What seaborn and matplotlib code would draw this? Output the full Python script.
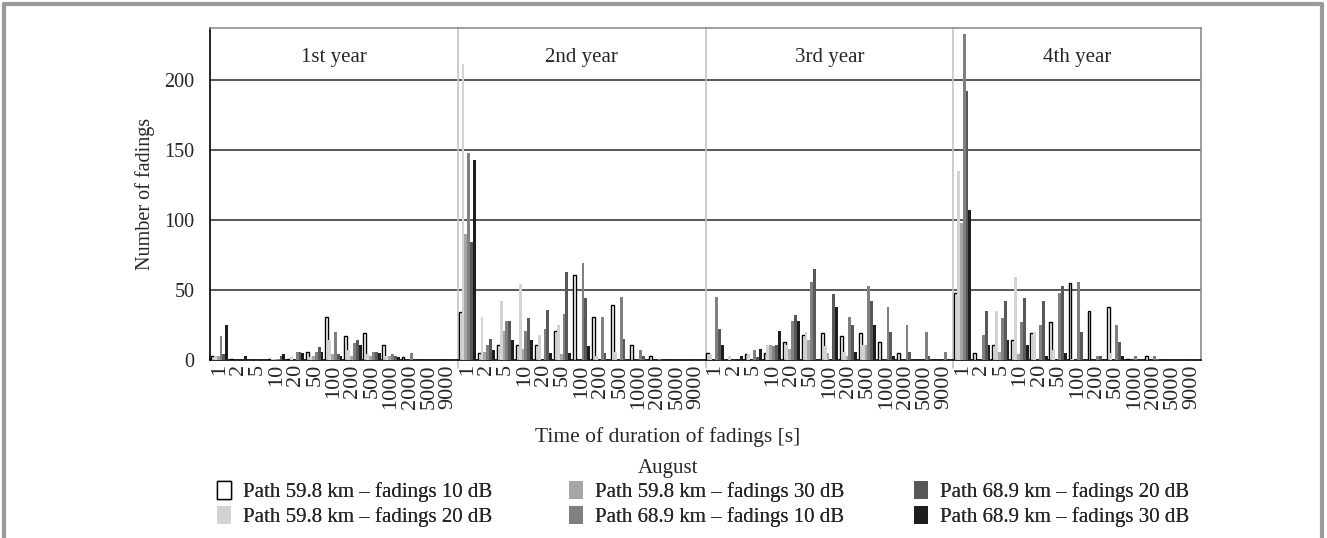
import numpy as np
import pandas as pd
import seaborn as sns
import matplotlib
matplotlib.use("Agg")
import matplotlib.pyplot as plt
from matplotlib.patches import Patch
from matplotlib.lines import Line2D

# ---------------- data ----------------
durations = ["1", "2", "5", "10", "20", "50", "100", "200", "500", "1000", "2000", "5000", "9000"]
years = ["1st year", "2nd year", "3rd year", "4th year"]
series_names = [
    "Path 59.8 km \u2013 fadings 10 dB",
    "Path 59.8 km \u2013 fadings 20 dB",
    "Path 59.8 km \u2013 fadings 30 dB",
    "Path 68.9 km \u2013 fadings 10 dB",
    "Path 68.9 km \u2013 fadings 20 dB",
    "Path 68.9 km \u2013 fadings 30 dB",
]

# values per series, 4 years x 13 durations
p598_10 = [3, 1, 0, 1, 1, 6, 31, 17, 19, 11, 2, 0, 0,
           34, 5, 11, 11, 11, 21, 61, 31, 39, 11, 3, 0, 0,
           5, 0, 4, 5, 13, 18, 19, 17, 19, 13, 5, 0, 0,
           48, 5, 11, 14, 19, 27, 55, 35, 38, 1, 3, 0, 0]
p598_20 = [3, 0, 0, 1, 2, 2, 14, 7, 4, 3, 0, 0, 0,
           211, 31, 42, 54, 18, 25, 0, 3, 6, 0, 0, 0, 0,
           4, 3, 4, 11, 11, 20, 10, 6, 11, 0, 0, 0, 0,
           135, 0, 35, 59, 20, 7, 1, 0, 5, 0, 0, 0, 0]
p598_30 = [3, 0, 0, 1, 0, 3, 4, 3, 3, 3, 0, 0, 0,
           90, 6, 21, 8, 0, 4, 0, 0, 0, 0, 0, 0, 0,
           0, 0, 0, 11, 8, 14, 5, 3, 11, 0, 0, 0, 0,
           98, 0, 6, 4, 0, 0, 0, 0, 0, 0, 0, 0, 0]
p689_10 = [17, 0, 0, 1, 6, 6, 20, 12, 6, 4, 5, 0, 0,
           148, 11, 28, 21, 22, 33, 69, 31, 45, 7, 1, 0, 0,
           45, 0, 7, 10, 28, 56, 0, 31, 53, 38, 25, 20, 6,
           233, 18, 30, 27, 25, 48, 56, 3, 25, 3, 3, 0, 0]
p689_20 = [4, 0, 0, 3, 6, 9, 4, 14, 6, 3, 0, 0, 0,
           84, 15, 28, 30, 36, 63, 44, 5, 15, 3, 0, 0, 0,
           22, 0, 2, 11, 32, 65, 47, 25, 42, 20, 6, 3, 0,
           192, 35, 42, 44, 42, 53, 20, 3, 13, 0, 1, 0, 0]
p689_30 = [25, 3, 0, 4, 5, 6, 3, 11, 5, 2, 0, 0, 0,
           143, 7, 14, 14, 5, 5, 10, 0, 0, 0, 0, 0, 0,
           11, 3, 8, 21, 28, 0, 38, 6, 25, 3, 1, 0, 0,
           107, 11, 14, 11, 3, 5, 0, 1, 3, 0, 0, 0, 0]

series_values = [p598_10, p598_20, p598_30, p689_10, p689_20, p689_30]
colors = ["#ffffff", "#d3d3d3", "#a6a6a6", "#808080", "#585858", "#1e1e1e"]

# ---------------- table ----------------
keys = [f"{y}|{d}" for y in years for d in durations]
rows = []
for name, vals in zip(series_names, series_values):
    for k, v in zip(keys, vals):
        rows.append({"key": k, "series": name, "value": v})
df = pd.DataFrame(rows)

# ---------------- figure ----------------
sns.set_style("white")
plt.rcParams["font.family"] = ["Liberation Serif", "DejaVu Serif"]

W, H = 1327, 538
fig = plt.figure(figsize=(W / 100, H / 100), dpi=100)
L, R, T, B = 210, 1201, 28, 360
ax = fig.add_axes([L / W, 1 - B / H, (R - L) / W, (B - T) / H])

sns.barplot(data=df, x="key", y="value", hue="series", order=keys,
            hue_order=series_names, palette=colors, saturation=1,
            width=0.9, linewidth=0, legend=False, ax=ax, zorder=3)

for i, cont in enumerate(ax.containers):
    for p in cont.patches:
        if i == 0:
            p.set_edgecolor("#000000")
            p.set_linewidth(1.0)
        else:
            p.set_edgecolor("none")

n = len(keys)
ax.set_xlim(-0.5, n - 0.5)
ax.set_ylim(0, 237)

# grid
ax.set_yticks([0, 50, 100, 150, 200])
for yv in [50, 100, 150, 200]:
    ax.axhline(yv, color="#4a4a4a", lw=1.3, zorder=1)

# spines
for s in ["top", "right"]:
    ax.spines[s].set_color("#8c8c8c")
    ax.spines[s].set_linewidth(1.2)
ax.spines["left"].set_color("#000000")
ax.spines["bottom"].set_color("#000000")
ax.spines["left"].set_linewidth(1.2)
ax.spines["bottom"].set_linewidth(1.2)

# ticks
ax.set_xticks(np.arange(n))
ax.set_xticklabels(durations * len(years), rotation=90, fontsize=16)
ax.tick_params(axis="x", which="major", length=0, pad=3)
ax.set_xticks(np.arange(-0.5, n, 1.0), minor=True)
ax.tick_params(axis="x", which="minor", length=6, color="#999999", width=0.8)
ax.tick_params(axis="y", which="major", length=5, color="#888888", labelsize=14.5, pad=6)
ax.set_xlabel("")
ax.set_ylabel("Number of fadings", fontsize=14.5)
ax.yaxis.set_label_coords((155 - L) / (R - L), 0.5)

# year dividers and labels
for j in range(1, len(years)):
    xb = j * len(durations) - 0.5
    ax.axvline(xb, ymin=-0.025, ymax=1, color="#c4c4c4", lw=1.2, clip_on=False, zorder=2)
for j, yname in enumerate(years):
    xc = j * len(durations) + (len(durations) - 1) / 2
    ax.text(xc, 216, yname, ha="center", va="center", fontsize=15)

# titles below
fig.text(668 / W, 1 - 437 / H, "Time of duration of fadings [s]", ha="center", va="center", fontsize=15.5)
fig.text(668 / W, 1 - 468 / H, "August", ha="center", va="center", fontsize=15)

# legend in three columns
handles = []
for i, (name, c) in enumerate(zip(series_names, colors)):
    ec = "#000000" if i == 0 else c
    handles.append(Patch(facecolor=c, edgecolor=ec, linewidth=1.0 if i == 0 else 0, label=name))
col_x = [217, 569, 914]
for ci in range(3):
    leg = fig.legend(handles=handles[2 * ci:2 * ci + 2], loc="upper left",
                     bbox_to_anchor=(col_x[ci] / W, 1 - 481 / H), frameon=False,
                     fontsize=15, handlelength=0.65, handleheight=0.95, handletextpad=0.6,
                     labelspacing=0.2, borderaxespad=0, borderpad=0)
    fig.add_artist(leg)

# outer frame
fc = "#9a9a9a"
fig.add_artist(Line2D([4 / W, 4 / W], [0, 1 - 4 / H], color=fc, lw=3, transform=fig.transFigure))
fig.add_artist(Line2D([1322 / W, 1322 / W], [0, 1 - 4 / H], color=fc, lw=3, transform=fig.transFigure))
fig.add_artist(Line2D([4 / W, 1322 / W], [1 - 4 / H, 1 - 4 / H], color=fc, lw=3, transform=fig.transFigure))

fig.savefig("out.png", dpi=100)
